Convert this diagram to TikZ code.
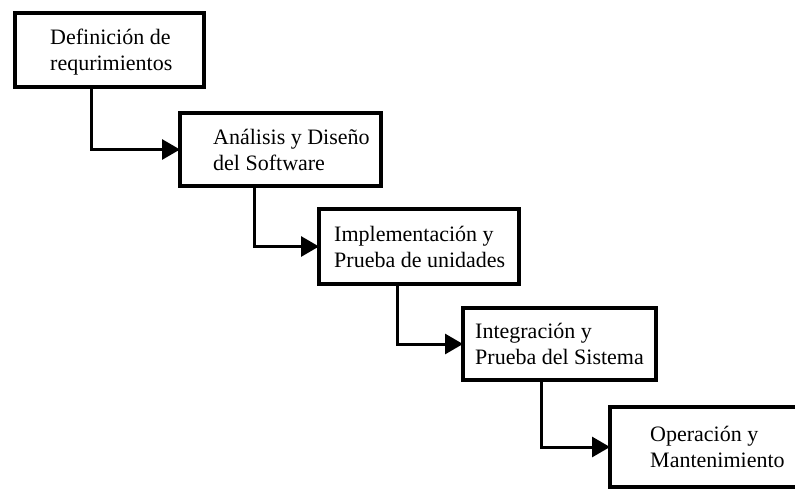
\documentclass[tikz,border=0pt]{standalone}
\usepackage{fontspec}
\setmainfont{Liberation Serif}
\usetikzlibrary{arrows.meta}
\begin{document}
\begin{tikzpicture}[x=1pt,y=-1pt,
  stagebox/.style={draw=black, line width=4.5pt, fill=white, rectangle, inner sep=0pt, outer sep=0pt},
  txt/.style={anchor=west, align=left, inner sep=0pt, font=\fontsize{22}{26}\selectfont},
  conn/.style={line width=3pt, -{Triangle[length=18pt,width=20pt]}}]
\clip (0,0) rectangle (795,490);
\fill[white] (0,0) rectangle (795,490);
\node[stagebox, minimum width=189pt, minimum height=74pt] (b1) at (109.5,50) {};
\node[stagebox, minimum width=201pt, minimum height=73pt] (b2) at (280.5,149.5) {};
\node[stagebox, minimum width=200pt, minimum height=75pt] (b3) at (419,246.5) {};
\node[stagebox, minimum width=193pt, minimum height=72pt] (b4) at (559.5,344) {};
\node[stagebox, minimum width=190pt, minimum height=80pt] (b5) at (705,447) {};
\node[txt] (t1) at ([xshift=35pt,yshift=-2pt]b1.west) {Definición de\\requrimientos};
\node[txt] (t2) at ([xshift=33pt]b2.west) {Análisis y Diseño\\del Software};
\node[txt] (t3) at ([xshift=15pt]b3.west) {Implementación y\\Prueba de unidades};
\node[txt] (t4) at ([xshift=12pt]b4.west) {Integración y\\Prueba del Sistema};
\node[txt] (t5) at ([xshift=40pt]b5.west) {Operación y\\Mantenimiento};
\draw[conn] ([xshift=-18.5pt]b1.south) |- (b2.west);
\draw[conn] ([xshift=-26.5pt]b2.south) |- (b3.west);
\draw[conn] ([xshift=-22pt]b3.south) |- (b4.west);
\draw[conn] ([xshift=-18pt]b4.south) |- (b5.west);
\end{tikzpicture}
\end{document}
